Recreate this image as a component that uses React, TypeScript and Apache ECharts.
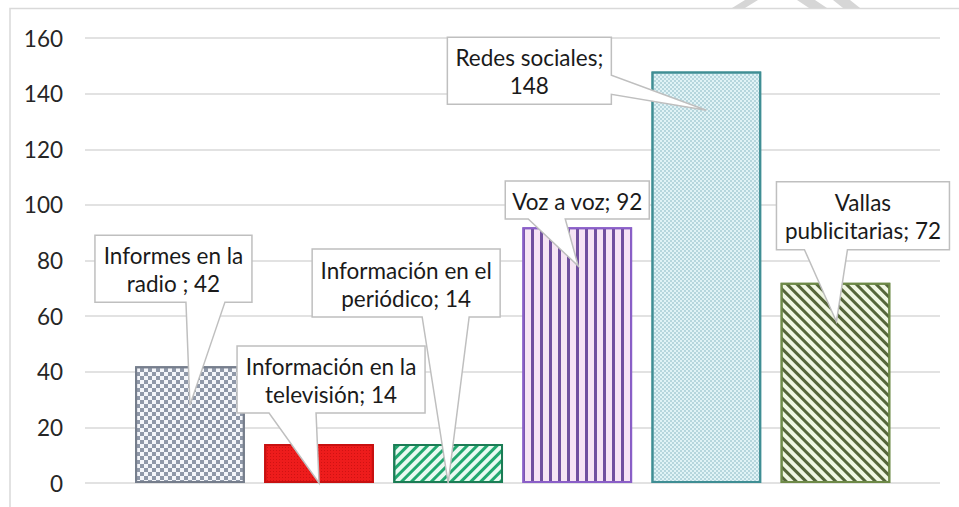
import React, { useEffect, useRef } from "react";
import * as echarts from "echarts";

const categories = [
  "Informes en la radio ",
  "Información en la televisión",
  "Información en el periódico",
  "Voz a voz",
  "Redes sociales",
  "Vallas publicitarias",
];
const values = [42, 14, 14, 92, 148, 72];
const yTicks = { min: 0, max: 160, interval: 20 };

// callout geometry: pointer tip (category index + value where the tip lands), box offset from tip, size, wedge
const callouts = [
  { tipValue: 28, tipDx: 0, bx: -95, by: -170, w: 157, h: 67, side: "bottom", w0: 91, w1: 130, firstLine: 3 },
  { tipValue: 0, tipDx: 0, bx: -82, by: -137, w: 188, h: 67, side: "bottom", w0: 32, w1: 79, firstLine: 3 },
  { tipValue: 0, tipDx: 0, bx: -136, by: -234, w: 188, h: 68, side: "bottom", w0: 110, w1: 157, firstLine: 3 },
  { tipValue: 78, tipDx: 1, bx: -73, by: -85, w: 144, h: 38, side: "bottom", w0: 23, w1: 60, firstLine: 99 },
  { tipValue: 134, tipDx: 0, bx: -259, by: -73, w: 164, h: 67, side: "right", w0: 38, w1: 57, firstLine: 2 },
  { tipValue: 58, tipDx: 1, bx: -60, by: -140, w: 173, h: 68, side: "bottom", w0: 28, w1: 71, firstLine: 1 },
];

const barStyles = [
  { color: "#f4f6fa", borderColor: "#767e8c", decal: { symbol: "rect", symbolSize: 1, color: "#8f98a8", dashArrayX: [[3.5, 3.5], [0, 3.5, 3.5, 0]], dashArrayY: [3.5, 0] } },
  { color: "#ee1c1c", borderColor: "#c81010", decal: { symbol: "rect", symbolSize: 1, color: "rgba(150,0,0,0.35)", dashArrayX: [[1, 2]], dashArrayY: [1, 2] } },
  { color: "#eafaf2", borderColor: "#1b7d55", decal: { symbol: "rect", symbolSize: 1, color: "#22a870", dashArrayX: [1, 0], dashArrayY: [3, 4], rotation: -Math.PI / 4 } },
  { color: "#f6e4f4", borderColor: "#8a5fc8", decal: { symbol: "rect", symbolSize: 1, color: "#71509f", dashArrayX: [3, 6], dashArrayY: [1, 0] } },
  { color: "#e0f3f6", borderColor: "#3f8e94", decal: { symbol: "rect", symbolSize: 1, color: "rgba(130,180,190,0.45)", dashArrayX: [[2, 2], [0, 2, 2, 0]], dashArrayY: [2, 0] } },
  { color: "#f0f7e2", borderColor: "#6e8a48", decal: { symbol: "rect", symbolSize: 1, color: "#55663a", dashArrayX: [1, 0], dashArrayY: [3, 4], rotation: Math.PI / 4 } },
];

const FONT = "Lato, 'Open Sans', sans-serif";

function labelText(i: number) {
  const words = `${categories[i]}; ${values[i]}`.split(" ").filter((w) => w.length > 0);
  const n = callouts[i].firstLine;
  const a = words.slice(0, n).join(" ");
  const b = words.slice(n).join(" ");
  return b ? `${a}\n${b}` : a;
}

export default function App() {
  const ref = useRef<HTMLDivElement>(null);
  useEffect(() => {
    if (!ref.current) return;
    const chart = echarts.init(ref.current, undefined, { renderer: "svg" });
    const option: any = {
      animation: false,
      backgroundColor: "#ffffff",
      grid: [
        { left: 85, right: 19, top: 38, bottom: 24 },
        { left: 125.4, right: 59, top: 38, bottom: 24 },
      ],
      xAxis: [
        { gridIndex: 0, type: "value", show: false, min: 0, max: 1 },
        { gridIndex: 1, type: "category", data: categories, show: false, boundaryGap: true },
      ],
      yAxis: [
        {
          gridIndex: 0,
          type: "value",
          min: yTicks.min,
          max: yTicks.max,
          interval: yTicks.interval,
          axisLine: { show: false },
          axisTick: { show: false },
          axisLabel: { margin: 22, fontFamily: FONT, fontSize: 22.5, color: "#262626" },
          splitLine: { lineStyle: { color: "#d9d9d9", width: 1.5 } },
        },
        { gridIndex: 1, type: "value", min: yTicks.min, max: yTicks.max, interval: yTicks.interval, show: false, splitLine: { show: false } },
      ],
      series: [
        {
          type: "bar",
          xAxisIndex: 1,
          yAxisIndex: 1,
          barCategoryGap: "15%",
          data: values.map((v, i) => ({
            value: v,
            itemStyle: {
              color: barStyles[i].color,
              borderColor: barStyles[i].borderColor,
              borderWidth: 2,
              decal: barStyles[i].decal,
            },
          })),
          z: 2,
        },
        {
          type: "custom",
          xAxisIndex: 1,
          yAxisIndex: 1,
          clip: false,
          z: 5,
          data: callouts.map((c, i) => [i, c.tipValue]),
          renderItem: (params: any, api: any) => {
            const i = params.dataIndex;
            const c = callouts[i];
            const p = api.coord([api.value(0), api.value(1)]);
            const tx = p[0] + c.tipDx;
            const ty = p[1];
            const x0 = tx + c.bx;
            const y0 = ty + c.by;
            const x1 = x0 + c.w;
            const y1 = y0 + c.h;
            let pts: number[][];
            if (c.side === "bottom") {
              pts = [[x0, y0], [x1, y0], [x1, y1], [x0 + c.w1, y1], [tx, ty], [x0 + c.w0, y1], [x0, y1]];
            } else {
              pts = [[x0, y0], [x1, y0], [x1, y0 + c.w0], [tx, ty], [x1, y0 + c.w1], [x1, y1], [x0, y1]];
            }
            return {
              type: "group",
              children: [
                {
                  type: "polygon",
                  shape: { points: pts },
                  style: { fill: "#ffffff", stroke: "#bfbfbf", lineWidth: 1.5 },
                },
                {
                  type: "text",
                  style: {
                    text: labelText(i),
                    x: (x0 + x1) / 2,
                    y: (y0 + y1) / 2 + 1,
                    align: "center",
                    verticalAlign: "middle",
                    fontFamily: FONT,
                    fontSize: 22.5,
                    lineHeight: 28,
                    fill: "#1a1a1a",
                  },
                },
              ],
            };
          },
        },
      ],
      graphic: [
        {
          type: "rect",
          shape: { x: 10, y: 8.5, width: 1000, height: 600 },
          style: { fill: "none", stroke: "#d9d9d9", lineWidth: 1.5 },
          silent: true,
          z: 0,
        },
        { type: "polygon", shape: { points: [[745, 0], [758, 0], [745, 8], [732, 8]] }, style: { fill: "#d6d6d6" }, silent: true },
        { type: "polygon", shape: { points: [[797, 0], [815, 0], [827, 8], [809, 8]] }, style: { fill: "#d6d6d6" }, silent: true },
        { type: "polygon", shape: { points: [[833, 0], [850, 0], [860, 8], [843, 8]] }, style: { fill: "#d6d6d6" }, silent: true },
      ],
    };
    chart.setOption(option);
    return () => chart.dispose();
  }, []);
  return (
    <div
      ref={ref}
      style={{ position: "fixed", left: 0, top: 0, width: 959, height: 507, background: "#fff" }}
    />
  );
}
